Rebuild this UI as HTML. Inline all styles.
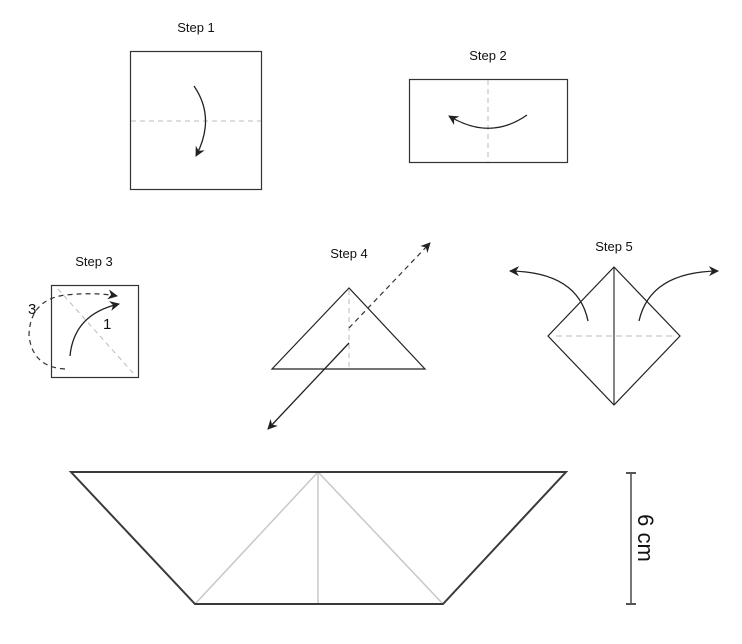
<!DOCTYPE html>
<html><head><style>
html,body{margin:0;padding:0;background:#fff;}
svg{display:block;}
text{font-family:"Liberation Sans",sans-serif;fill:#111;}
</style></head><body>
<svg width="742" height="644" viewBox="0 0 742 644" xmlns="http://www.w3.org/2000/svg">
<defs>
<marker id="ah" viewBox="0 0 10 10" refX="9" refY="5" markerWidth="10" markerHeight="10" markerUnits="userSpaceOnUse" orient="auto">
<path d="M0,0 L10,5 L0,10 L3,5 z" fill="#222"/>
</marker>
</defs>
<!-- Step 1 -->
<text x="196" y="32" font-size="13" text-anchor="middle">Step 1</text>
<rect x="130.5" y="51.5" width="131" height="138" fill="none" stroke="#333" stroke-width="1.2"/>
<line x1="131" y1="121" x2="261" y2="121" stroke="#bbb" stroke-dasharray="5,4"/>
<path d="M194,86 Q216,118 196,156" fill="none" stroke="#222" stroke-width="1.3" marker-end="url(#ah)"/>
<!-- Step 2 -->
<text x="488" y="60" font-size="13" text-anchor="middle">Step 2</text>
<rect x="409.5" y="79.5" width="158" height="83" fill="none" stroke="#333" stroke-width="1.2"/>
<line x1="488" y1="80" x2="488" y2="162" stroke="#bbb" stroke-dasharray="5,4"/>
<path d="M527,115 Q490,141 449,116" fill="none" stroke="#222" stroke-width="1.3" marker-end="url(#ah)"/>
<!-- Step 3 -->
<text x="94" y="266" font-size="13" text-anchor="middle">Step 3</text>
<rect x="51.5" y="285.5" width="87" height="92" fill="none" stroke="#333" stroke-width="1.2"/>
<line x1="58" y1="289" x2="133" y2="373" stroke="#bbb" stroke-dasharray="5,4"/>
<path d="M70,356 Q74,314 119,304" fill="none" stroke="#222" stroke-width="1.3" marker-end="url(#ah)"/>
<path d="M65,369 Q32,367 29,335 Q30,300 65,295 Q95,292 117,296" fill="none" stroke="#333" stroke-width="1.2" stroke-dasharray="5,4" marker-end="url(#ah)"/>
<text x="28" y="314" font-size="15">3</text>
<text x="103" y="329" font-size="15">1</text>
<!-- Step 4 -->
<text x="349" y="258" font-size="13" text-anchor="middle">Step 4</text>
<polygon points="349,288 272,369 425,369" fill="none" stroke="#222" stroke-width="1.2"/>
<line x1="349" y1="290" x2="349" y2="368" stroke="#bbb" stroke-dasharray="5,4"/>
<line x1="349" y1="328" x2="430" y2="243" stroke="#333" stroke-width="1.2" stroke-dasharray="5,4" marker-end="url(#ah)"/>
<line x1="349" y1="343" x2="268" y2="429" stroke="#222" stroke-width="1.3" marker-end="url(#ah)"/>
<!-- Step 5 -->
<text x="614" y="251" font-size="13" text-anchor="middle">Step 5</text>
<polygon points="614,267 680,336 614,405 548,336" fill="none" stroke="#222" stroke-width="1.2"/>
<line x1="614" y1="267" x2="614" y2="405" stroke="#333" stroke-width="1.2"/>
<line x1="556" y1="336" x2="672" y2="336" stroke="#bbb" stroke-dasharray="6,4"/>
<path d="M588,321 Q578,272 510,271" fill="none" stroke="#222" stroke-width="1.3" marker-end="url(#ah)"/>
<path d="M639,321 Q650,272 718,271" fill="none" stroke="#222" stroke-width="1.3" marker-end="url(#ah)"/>
<!-- Boat -->
<line x1="318" y1="472" x2="195" y2="604" stroke="#c8c8c8" stroke-width="1.5"/>
<line x1="318" y1="472" x2="443" y2="604" stroke="#c8c8c8" stroke-width="1.5"/>
<line x1="318" y1="472" x2="318" y2="604" stroke="#c8c8c8" stroke-width="1.5"/>
<polygon points="71,472 566,472 443,604 195,604" fill="none" stroke="#3a3a3a" stroke-width="2"/>
<!-- scale -->
<line x1="631" y1="473" x2="631" y2="604" stroke="#777" stroke-width="2"/>
<line x1="626" y1="473" x2="636" y2="473" stroke="#555" stroke-width="2"/>
<line x1="626" y1="604" x2="636" y2="604" stroke="#555" stroke-width="2"/>
<text x="0" y="0" font-size="22" text-anchor="middle" transform="translate(638,538) rotate(90)">6 cm</text>
</svg>
</body></html>
